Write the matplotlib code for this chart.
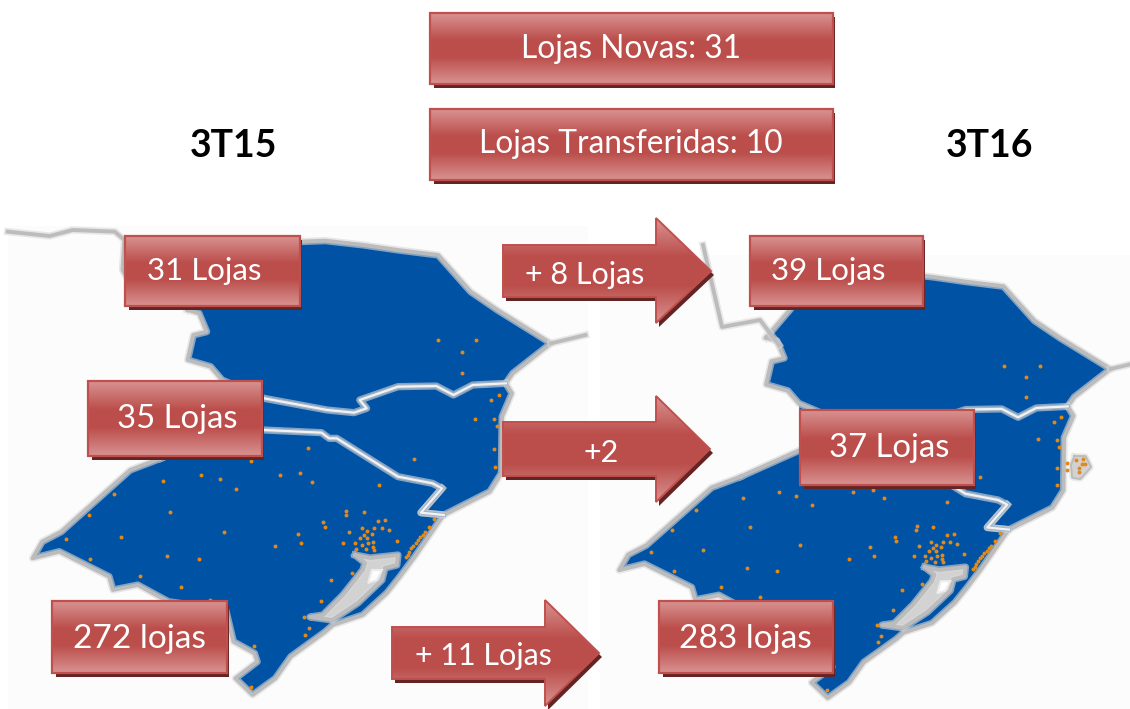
import numpy as np
import matplotlib
matplotlib.use("Agg")
import matplotlib.pyplot as plt
from matplotlib.patches import Polygon, Rectangle

# ---------- data ----------
periods = ["3T15", "3T16"]
region_stores_3t15 = [31, 35, 272]
region_stores_3t16 = [39, 37, 283]
new_stores = 31
transferred_stores = 10
delta_labels = ["+ 8 Lojas", "+2", "+ 11 Lojas"]

# Map geometry
pr_outline = [(490,270),(520,280),(540,335),(505,345),(490,420),(550,440),(580,480),(690,535),
              (855,570),(925,578),(958,565),(940,540),(1040,500),(1140,498),(1185,525),(1235,495),
              (1322,490),(1340,460),(1440,370),(1300,270),(1230,215),(1145,105),(1040,90),(950,75),
              (850,62),(780,65),(627,75),(556,180)]
sc_outline = [(580,480),(690,535),(855,570),(925,578),(958,565),(940,540),(1040,500),(1140,498),
              (1185,525),(1235,495),(1322,490),(1338,520),(1312,590),(1310,760),(1280,815),(1160,885),
              (1100,878),(1155,805),(1130,790),(1040,770),(880,655),(860,655),(840,638),(690,630),(606,625)]
rs_outline = [(420,715),(583,630),(690,630),(840,638),(860,655),(880,655),(1040,770),(1130,790),(1155,805),
              (1100,878),(1160,885),(1150,900),(1084,1010),(1045,1070),(1011,1119),(948,1185),(870,1215),
              (849,1236),(760,1310),(720,1375),(660,1425),(615,1375),(672,1325),(665,1300),(610,1265),
              (590,1170),(440,1145),(360,1095),(295,1110),(285,1070),(155,995),(85,1015),(110,965),
              (160,935),(340,750)]
lagoon_outline = [(928,1005),(967,1014),(1040,1005),(1037,1035),(1006,1044),(998,1080),(935,1149),
                  (868,1200),(810,1191),(844,1185),(896,1125),(948,1050),(954,1029)]
lagoon_open_water = [(972,1050),(998,1050),(985,1080),(962,1089)]
inner_borders = [[(690,535),(855,570),(925,578),(958,565),(940,540),(1040,500),(1140,498),(1185,525),(1235,495),(1322,490)],
                 [(690,630),(840,638),(860,655),(880,655),(1040,770),(1130,790),(1155,805),(1100,878),(1160,885)]]
north_border = [(20,35),(130,48),(190,30),(300,35),(325,60),(320,150),(335,180)]
east_border = [(1440,370),(1530,345)]

stores_pr = [(1145,360),(1244,360),(1208,397),(1207,460)]
stores_sc = [(1303,525),(1284,540),(1240,596),(1291,597),(1298,619),(1291,687),(1081,717),(1293,742)]
stores_rs = [(805,685),(657,722),(427,782),(526,765),(574,777),(617,807),(731,765),(785,758),(815,785),
             (990,795),(297,822),(232,886),(445,877),(172,958),(317,950),(585,935),(236,1018),(437,1008),
             (520,1017),(367,1068),(474,1100),(548,1140),(718,979),(778,942),(787,969),(845,907),(849,921),
             (905,872),(904,885),(951,876),(988,902),(1007,900),(912,937),(945,925),(958,933),(977,925),
             (997,924),(1017,931),(972,942),(950,945),(940,955),(960,955),(897,969),(928,970),(945,975),
             (962,968),(975,965),(1037,963),(930,986),(957,988),(975,980),(977,990),(1060,1010),(1135,897),
             (1120,920),(864,1080),(921,1060),(840,1144),(795,1192),(808,1225),(798,1244),(664,1277),(657,1400),
             (1065,1005),(1070,995),(1075,985),(1080,977),(1086,968),(1092,960),(1098,952),(1104,944),(1110,936)]
# Stores on the island, visible only in the 3T16 map (pixel positions)
stores_island_3t16 = [(1067,463),(1067,470),(1076,460),(1083,459),(1085,464),(1082,464),(1079,468),(1079,472)]
island_outline_3t16 = [(1075,457),(1085,457),(1090,467),(1080,478),(1073,477),(1072,465)]
north_border_3t16 = [(703,245),(722,327),(760,320),(779,345)]

# ---------- helpers ----------
BLUE = "#0052a4"; DOT = "#e08a1e"
LIGHT = np.array([216, 146, 145]) / 255
MID = np.array([187, 78, 75]) / 255
EDGE = "#c0504d"; SHADOW = "#632423"

def to_px(pts):
    a = np.asarray(pts, float)
    return np.column_stack([a[:, 0] / 2.613, 220 + a[:, 1] / 3])

def to_right(p):
    return np.column_stack([619 + (p[:, 0] - 32.5) * 0.948, 700 - (697 - p[:, 1]) * 0.936])

def gradient(ax, patch, x0, x1, y0, y1, dist, bevel, z):
    X, Y = np.meshgrid(np.arange(x0, x1 + 1), np.arange(y0, y1 + 1))
    t = np.clip(dist(X, Y) / bevel, 0, 1)[..., None]
    im = ax.imshow(LIGHT + (MID - LIGHT) * t, extent=(x0, x1, y1, y0), origin="upper",
                   aspect="auto", zorder=z, interpolation="bilinear")
    im.set_clip_path(patch)

def box(ax, x0, x1, y0, y1, label, tx, ty, size=22.5):
    ax.add_patch(Rectangle((x0 + 3.5, y0 + 3.5), x1 - x0 - 2, y1 - y0, fc=SHADOW, ec="none", zorder=8))
    r = Rectangle((x0, y0), x1 - x0, y1 - y0, fc="none", ec="none", zorder=9)
    ax.add_patch(r)
    gradient(ax, r, x0, x1, y0, y1, lambda X, Y: np.minimum(Y - y0, y1 - Y), (y1 - y0) * 0.38, 9)
    ax.add_patch(Rectangle((x0, y0), x1 - x0, y1 - y0, fc="none", ec=EDGE, lw=1.6, zorder=10))
    ax.text(tx, ty, label, color="white", fontsize=size, family="Lato", ha="center", va="center", zorder=11)

def arrow(ax, x0, xh, tip, top, bot, htop, hbot, label, tx, ty):
    pts = [(x0, top), (xh, top), (xh, htop), (tip, (top + bot) / 2), (xh, hbot), (xh, bot), (x0, bot)]
    ax.add_patch(Polygon([(p[0] + 3, p[1] + 4) for p in pts], fc=SHADOW, ec="none", zorder=8))
    poly = Polygon(pts, fc="none", ec="none", zorder=9)
    ax.add_patch(poly)
    yc = (top + bot) / 2
    hh = (hbot - htop) / 2
    gradient(ax, poly, x0, int(tip) + 1, int(htop), int(hbot) + 1,
             lambda X, Y: hh - np.abs(Y - yc), hh * 0.72, 9)
    ax.add_patch(Polygon(pts, fc="none", ec=EDGE, lw=1.4, zorder=10))
    ax.text(tx, ty, label, color="white", fontsize=22, family="Lato", ha="center", va="center", zorder=11)

def stroke(ax, p, closed=False, kind="outer", z=3):
    p = np.asarray(p)
    if closed:
        p = np.vstack([p, p[0]])
    if kind == "outer":
        ax.plot(p[:, 0], p[:, 1], color="#d9d9d9", lw=5.2, alpha=.6, zorder=z, solid_joinstyle="round")
        ax.plot(p[:, 0], p[:, 1], color="#bcbcbc", lw=2.8, zorder=z, solid_joinstyle="round")
    else:
        ax.plot(p[:, 0], p[:, 1], color="#9fb4cc", lw=2.8, zorder=z, solid_joinstyle="round")
        ax.plot(p[:, 0], p[:, 1], color="#f2f2f2", lw=1.6, zorder=z, solid_joinstyle="round")

def draw_map(ax, conv):
    for pts in (pr_outline, sc_outline, rs_outline):
        ax.add_patch(Polygon(conv(to_px(pts)), fc=BLUE, ec=BLUE, lw=.5, zorder=2))
    for pts in (pr_outline, rs_outline):
        stroke(ax, conv(to_px(pts)), closed=True)
    stroke(ax, conv(to_px(sc_outline[10:18])))
    p = conv(to_px(lagoon_outline))
    ax.add_patch(Polygon(p, fc="#d2d2d2", ec="none", zorder=3))
    stroke(ax, p, closed=True, z=4)
    ax.add_patch(Polygon(conv(to_px(lagoon_open_water)), fc="white", ec="#ececec", lw=1.5, zorder=4))
    for b in inner_borders:
        stroke(ax, conv(to_px(b)), kind="inner", z=4)
    stroke(ax, conv(to_px(east_border)))
    s = conv(to_px(stores_pr + stores_sc + stores_rs))
    ax.scatter(s[:, 0], s[:, 1], s=8, c=DOT, linewidths=0, zorder=5)

# ---------- figure ----------
fig = plt.figure(figsize=(11.30, 7.09), dpi=100)
ax = fig.add_axes([0, 0, 1, 1])
ax.axis("off")

ax.add_patch(Rectangle((8, 226), 580, 483, fc="#fcfcfc", ec="none", zorder=0))
ax.add_patch(Rectangle((600, 255), 530, 454, fc="#fcfcfc", ec="none", zorder=0))

identity = lambda p: p
draw_map(ax, identity)
draw_map(ax, to_right)
stroke(ax, to_px(north_border))
stroke(ax, north_border_3t16)
stroke(ax, island_outline_3t16, closed=True)
ax.add_patch(Polygon(island_outline_3t16, fc="#d2d2d2", ec="none", zorder=3))
isl = np.array(stores_island_3t16)
ax.scatter(isl[:, 0], isl[:, 1], s=8, c=DOT, linewidths=0, zorder=5)

ax.text(234, 146, periods[0], fontsize=27, fontweight="bold", family="Lato", color="black", ha="center", va="center")
ax.text(990, 146, periods[1], fontsize=27, fontweight="bold", family="Lato", color="black", ha="center", va="center")

box(ax, 430, 833, 13, 84, f"Lojas Novas: {new_stores}", 631, 49, 22.8)
box(ax, 430, 833, 109, 180, f"Lojas Transferidas: {transferred_stores}", 631, 144, 22.8)
box(ax, 125, 300, 236, 306, f"{region_stores_3t15[0]} Lojas", 204, 271, 22.5)
box(ax, 750, 923, 236, 306, f"{region_stores_3t16[0]} Lojas", 828, 271, 22.5)
box(ax, 88, 262, 381, 456, f"{region_stores_3t15[1]} Lojas", 177, 419, 23.7)
box(ax, 800, 974, 410, 485, f"{region_stores_3t16[1]} Lojas", 889, 448, 23.7)
box(ax, 52, 227, 601, 673, f"{region_stores_3t15[2]} lojas", 139, 639, 24)
box(ax, 659, 833, 601, 673, f"{region_stores_3t16[2]} lojas", 745, 639, 24)

arrow(ax, 503, 656, 711, 245, 297, 218, 323, delta_labels[0], 585, 275)
arrow(ax, 503, 656, 710, 422, 476, 396, 502, delta_labels[1], 601, 453)
arrow(ax, 392, 545, 599, 627, 679, 600, 706, delta_labels[2], 483, 656)

ax.set_xlim(0, 1130)
ax.set_ylim(709, 0)
fig.savefig("out.png", dpi=100, facecolor="white")
